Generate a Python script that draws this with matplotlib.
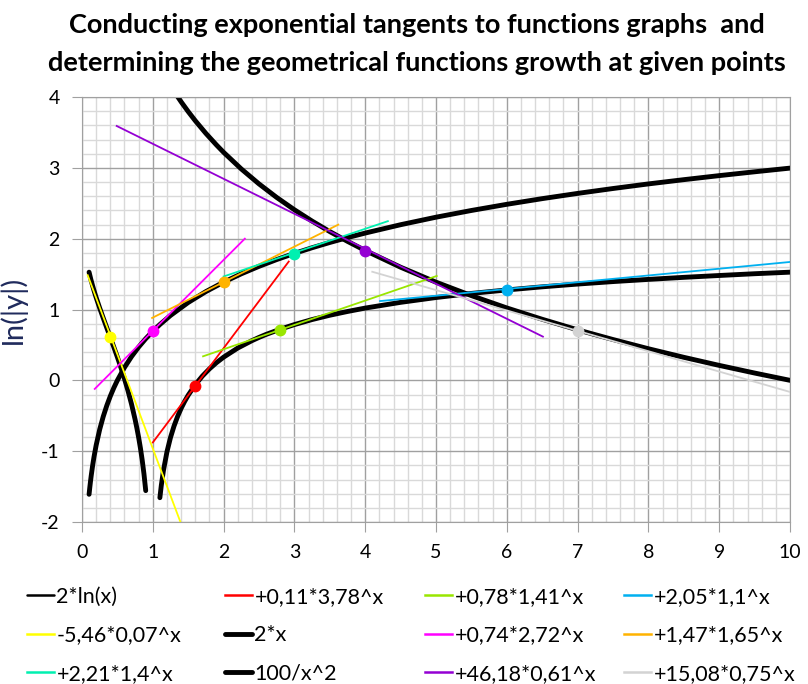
import numpy as np
from matplotlib import pyplot as plt

plt.rcParams['font.family'] = ['Lato', 'DejaVu Sans']
plt.rcParams['axes.unicode_minus'] = False

# --- curve values (ln of |function|) ---
ln_left_x = [0.1, 0.125, 0.15, 0.175, 0.2, 0.25, 0.3, 0.35, 0.4, 0.45, 0.5, 0.55, 0.6, 0.65, 0.7, 0.75,
             0.775, 0.8, 0.825, 0.85, 0.875, 0.9]
ln_left_y = [1.527, 1.425, 1.334, 1.249, 1.169, 1.020, 0.879, 0.742, 0.606, 0.468, 0.327, 0.179, 0.022,
             -0.149, -0.338, -0.553, -0.674, -0.807, -0.955, -1.124, -1.320, -1.557]
ln_right_x = [1.1, 1.12, 1.15, 1.2, 1.25, 1.3, 1.35, 1.4, 1.45, 1.5, 1.6, 1.7, 1.8, 1.9, 2.0, 2.2, 2.4,
              2.5, 2.6, 2.8, 3.0, 3.25, 3.5, 3.75, 4, 4.5, 5, 5.5, 6, 6.5, 7, 7.5, 8, 8.5, 9, 9.5, 10]
ln_right_y = [-1.657, -1.484, -1.275, -1.009, -0.807, -0.645, -0.511, -0.396, -0.297, -0.210, -0.062,
              0.060, 0.162, 0.250, 0.327, 0.456, 0.560, 0.606, 0.648, 0.722, 0.787, 0.858, 0.919, 0.972,
              1.020, 1.101, 1.169, 1.227, 1.276, 1.320, 1.359, 1.394, 1.425, 1.454, 1.480, 1.505, 1.527]

lin_x = [0.1, 0.11, 0.12, 0.13, 0.15, 0.17, 0.2, 0.25, 0.3, 0.35, 0.4, 0.45, 0.5, 0.6, 0.7, 0.8, 0.9,
         1.0, 1.1, 1.25, 1.5, 1.75, 2, 2.25, 2.5, 2.75, 3, 3.25, 3.5, 3.75, 4, 4.5, 5, 5.5, 6, 6.5, 7,
         7.5, 8, 8.5, 9, 9.5, 10]
lin_y = [-1.609, -1.514, -1.427, -1.347, -1.204, -1.079, -0.916, -0.693, -0.511, -0.357, -0.223,
         -0.105, 0.0, 0.182, 0.336, 0.470, 0.588, 0.693, 0.788, 0.916, 1.099, 1.253, 1.386, 1.504,
         1.609, 1.705, 1.792, 1.872, 1.946, 2.015, 2.079, 2.197, 2.303, 2.398, 2.485, 2.565, 2.639,
         2.708, 2.773, 2.833, 2.890, 2.944, 2.996]

hyp_x = [1.3, 1.4, 1.5, 1.6, 1.75, 1.9, 2, 2.25, 2.5, 2.75, 3, 3.25, 3.5, 3.75, 4, 4.5, 5, 5.5, 6,
         6.5, 7, 7.5, 8, 8.5, 9, 9.5, 10]
hyp_y = [4.080, 3.932, 3.794, 3.665, 3.486, 3.322, 3.219, 2.984, 2.773, 2.582, 2.408, 2.248, 2.100,
         1.962, 1.833, 1.597, 1.386, 1.196, 1.022, 0.862, 0.713, 0.576, 0.446, 0.325, 0.211, 0.103, 0.0]

# --- tangent lines: label, colour, start/end, touching point ---
tan_labels = ['+0,11*3,78^x', '+0,78*1,41^x', '+2,05*1,1^x', '-5,46*0,07^x', '+0,74*2,72^x',
              '+1,47*1,65^x', '+2,21*1,4^x', '+46,18*0,61^x', '+15,08*0,75^x']
tan_colors = ['#FF0000', '#99E600', '#00B0F0', '#FFFF00', '#FF00FF',
              '#FFB300', '#00F0B0', '#9400D3', '#D3D3D3']
tan_x0 = [1.0, 1.71, 4.21, 0.08, 0.18, 0.99, 2.0, 0.49, 4.1]
tan_y0 = [-0.877, 0.339, 1.119, 1.484, -0.121, 0.881, 1.466, 3.591, 1.533]
tan_x1 = [2.92, 5.01, 10.0, 1.39, 2.30, 3.62, 4.32, 6.51, 10.0]
tan_y1 = [1.677, 1.473, 1.671, -2.0, 2.0, 2.198, 2.247, 0.617, -0.164]
pt_x = [1.6, 2.8, 6, 0.4, 1, 2, 3, 4, 7]
pt_y = [-0.08, 0.714, 1.28, 0.61, 0.69, 1.387, 1.79, 1.83, 0.70]

fig = plt.figure(figsize=(8.08, 6.84), dpi=100)
ax = fig.add_axes([82/808, 1-522/684, 708/808, 425/684])

# grid
ax.set_xlim(0, 10)
ax.set_ylim(-2, 4)
ax.set_xticks(range(0, 11))
ax.set_yticks(range(-2, 5))
ax.set_xticks(np.arange(0, 10.01, 0.2), minor=True)
ax.set_yticks(np.arange(-2, 4.01, 0.2), minor=True)
ax.grid(which='minor', color='#D9D9D9', lw=1.0)
ax.grid(which='major', color='#A0A0A0', lw=1.0)
ax.set_axisbelow(True)
for s in ax.spines.values():
    s.set_color('#A0A0A0')
ax.tick_params(which='major', direction='out', length=7, color='#A0A0A0', labelsize=14, pad=9)
ax.tick_params(which='minor', length=0)

handles = {}
# tangent lines (thin)
for i in range(len(tan_labels)):
    h, = ax.plot([tan_x0[i], tan_x1[i]], [tan_y0[i], tan_y1[i]], color=tan_colors[i], lw=1.3,
                 label=tan_labels[i], zorder=3)
    handles[tan_labels[i]] = h

# the functions (thick black)
h_ln, = ax.plot(ln_left_x, ln_left_y, color='black', lw=3.5, label='2*ln(x)', zorder=2,
                solid_capstyle='round')
ax.plot(ln_right_x, ln_right_y, color='black', lw=3.5, zorder=2, solid_capstyle='round')
h_lin, = ax.plot(lin_x, lin_y, color='black', lw=3.5, label='2*x', zorder=2, solid_capstyle='round')
h_hyp, = ax.plot(hyp_x, hyp_y, color='black', lw=3.5, label='100/x^2', zorder=2, solid_capstyle='round')

# points of contact
for i in range(len(pt_x)):
    ax.plot(pt_x[i], pt_y[i], 'o', color=tan_colors[i], ms=7.5, zorder=4)

ax.set_ylabel('ln(|y|)', fontsize=21, color='#1F2A5C')
ax.yaxis.set_label_coords(-0.078, 0.5)

# legend: four columns of three rows
columns = [[h_ln, handles['-5,46*0,07^x'], handles['+2,21*1,4^x']],
           [handles['+0,11*3,78^x'], h_lin, h_hyp],
           [handles['+0,78*1,41^x'], handles['+0,74*2,72^x'], handles['+46,18*0,61^x']],
           [handles['+2,05*1,1^x'], handles['+1,47*1,65^x'], handles['+15,08*0,75^x']]]
col_left = [27, 225, 425, 624]
for j, col in enumerate(columns):
    leg = fig.legend(col, [h.get_label() for h in col], loc='upper left',
                     bbox_to_anchor=(col_left[j]/808, 1-587/684), frameon=False, fontsize=15.5,
                     handlelength=1.25, handletextpad=0.12, labelspacing=0.85, borderpad=0,
                     borderaxespad=0)
    for line in leg.get_lines():
        line.set_linewidth(3.5 if line.get_label() in ('2*x', '100/x^2') else 1.8)

fig.text(417/808, 1-44/684,
         'Conducting exponential tangents to functions graphs  and\n'
         'determining the geometrical functions growth at given points',
         ha='center', va='center', fontsize=19.5, fontweight='bold', linespacing=1.7)

fig.savefig('out.png', dpi=100)
